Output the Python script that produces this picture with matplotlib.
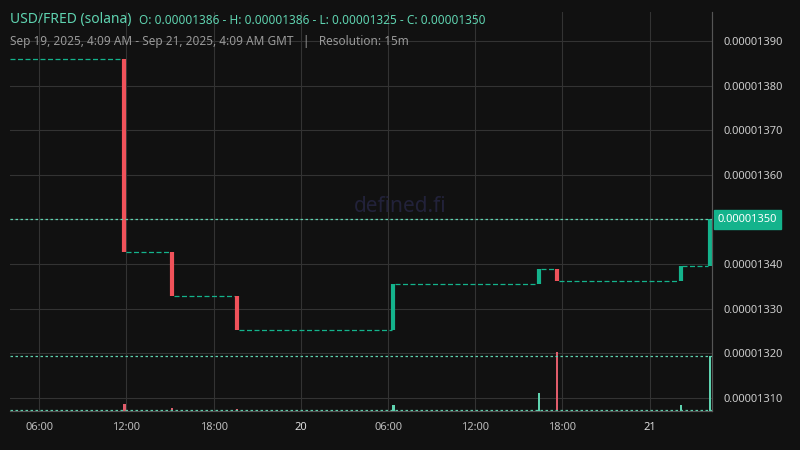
import matplotlib
matplotlib.use("Agg")
import matplotlib.pyplot as plt
import matplotlib.dates as mdates
from datetime import datetime, timedelta

plt.rcParams['font.family'] = ['Noto Sans', 'DejaVu Sans']

# Data: price change events (15m candles), value in 1e-8 units
start_price = 1386
event_times = ["2025-09-19 11:45", "2025-09-19 15:00", "2025-09-19 19:30", "2025-09-20 06:15",
               "2025-09-20 16:15", "2025-09-20 17:30", "2025-09-21 02:00", "2025-09-21 04:00"]
event_close = [1342.7, 1332.8, 1325.2, 1335.6, 1338.8, 1336.2, 1339.5, 1350.0]
event_volume = [7, 3, 2, 6, 18, 59, 6, 55]
tick_labels = ["06:00", "12:00", "18:00", "20", "06:00", "12:00", "18:00", "21"]

BG = "#111111"
TEAL = "#14b38c"
RED = "#f0525a"
TEAL_V = "#5fd3b0"
RED_V = "#e05c6b"
GRID = "#333333"

fig = plt.figure(figsize=(8, 4.5), dpi=100, facecolor=BG)
ax = fig.add_axes([10/800, 1-411/450, 702/800, 399/450])
ax.set_facecolor(BG)
x0 = datetime(2025, 9, 19, 4, 0)
x1 = datetime(2025, 9, 21, 4, 17)
ax.set_xlim(x0, x1)
ax.set_ylim(1307.04, 1396.5)

times = [datetime.strptime(t, "%Y-%m-%d %H:%M") for t in event_times]
q = timedelta(minutes=15)
prev = start_price
seg_start = x0
for t, c in zip(times, event_close):
    ax.hlines(prev, seg_start, t, colors=TEAL, linestyles=(0, (4, 2)), lw=0.9)
    col = TEAL if c >= prev else RED
    ax.vlines(t + q/2, min(prev, c), max(prev, c), colors=col, lw=3)
    seg_start = t + q
    prev = c

ax.axhline(event_close[-1], color=TEAL_V, ls=(0, (2, 2)), lw=0.9)

# volume
vax = ax.twinx()
vax.set_ylim(0, 399)
vax.set_xlim(x0, x1)
p = start_price
for t, c, v in zip(times, event_close, event_volume):
    col = TEAL_V if c >= p else RED_V
    vax.bar(t + q/2, v, width=q.total_seconds()/86400*0.6, color=col)
    p = c
vax.axhline(event_volume[-1], color=TEAL_V, ls=(0, (2, 2)), lw=0.9)
vax.axhline(0.8, color=TEAL_V, ls=(0, (2, 2)), lw=0.9)
vax.set_yticks([])

ticks = [datetime(2025, 9, 19, 6) + timedelta(hours=6*i) for i in range(8)]
ax.set_xticks(ticks)
ax.set_xticklabels(tick_labels)
for lbl in ax.get_xticklabels():
    lbl.set_color("#bbbbbb")
    lbl.set_fontsize(8)
    if lbl.get_text() in ("20", "21"):
        lbl.set_fontweight("bold")
        lbl.set_color("#dddddd")
yt = [1310, 1320, 1330, 1340, 1350, 1360, 1370, 1380, 1390]
ax.set_yticks(yt)
ax.yaxis.tick_right()
ax.set_yticklabels(["" if v == event_close[-1] else f"{v*1e-8:.8f}" for v in yt],
                   color="#cccccc", fontsize=8)
ax.tick_params(length=0, pad=8)
ax.grid(True, color=GRID, lw=0.8)
for s in ["top", "left"]:
    ax.spines[s].set_visible(False)
    vax.spines[s].set_visible(False)
for a in (ax, vax):
    a.spines["right"].set_color("#555555")
    a.spines["bottom"].set_color("#555555")

ax.text(1.008, event_close[-1], f"{event_close[-1]*1e-8:.8f}", transform=ax.get_yaxis_transform(),
        va="center", ha="left", fontsize=8, color="white",
        bbox=dict(boxstyle="square,pad=0.35", fc=TEAL, ec=TEAL))

fig.text(0.5, 0.54, "defined.fi", ha="center", va="center", fontsize=15, color="#22223a")
fig.text(10/800, 1-20/450, "USD/FRED (solana)", fontsize=10, color=TEAL_V, va="center")
fig.text(139/800, 1-20/450, "O: 0.00001386 - H: 0.00001386 - L: 0.00001325 - C: 0.00001350",
         fontsize=8.5, color=TEAL_V, va="center")
fig.text(10/800, 1-41/450, "Sep 19, 2025, 4:09 AM - Sep 21, 2025, 4:09 AM GMT   |   Resolution: 15m",
         fontsize=8.5, color="#999999", va="center")

fig.savefig("out.png", dpi=100, facecolor=BG)
